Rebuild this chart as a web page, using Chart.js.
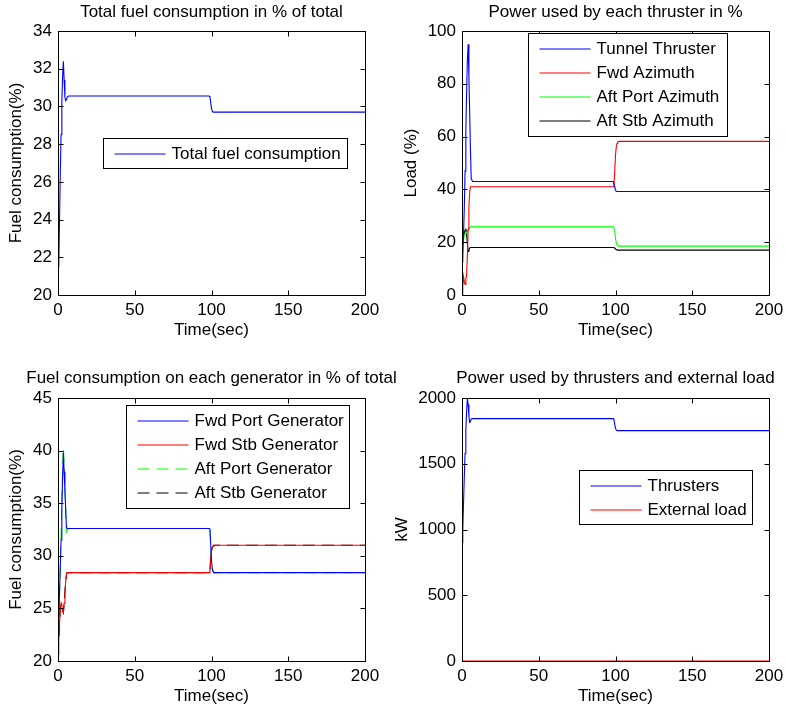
<!DOCTYPE html>
<html>
<head>
<meta charset="utf-8">
<script src="https://cdn.jsdelivr.net/npm/chart.js@4.4.1/dist/chart.umd.min.js"></script>
<style>
  html, body { margin: 0; padding: 0; background: #fff; overflow: hidden; }
  body { width: 786px; height: 712px; position: relative; }
  canvas { position: absolute; }
</style>
</head>
<body>
<canvas id="chart1" width="423" height="345" style="left:0;top:0"></canvas>
<canvas id="chart2" width="451" height="345" style="left:390px;top:0"></canvas>
<canvas id="chart3" width="423" height="362" style="left:0;top:350px"></canvas>
<canvas id="chart4" width="451" height="362" style="left:390px;top:350px"></canvas>
<script>
// data (waktu dalam detik)
const time = [0, 0.5, 1, 1.5, 2, 2.5, 3, 3.5, 4, 4.5, 5, 5.5, 6, 7, 8, 98.5, 99, 99.5, 100, 100.5, 101, 101.5, 102, 103, 200];
const timeTicks = [0, 50, 100, 150, 200];

// 1. total fuel consumption
const totalFuel = [21.5, 21.6, 24.0, 26.5, 28.5, 30.2, 31.6, 32.4, 31.4, 30.5, 30.3, 30.35, 30.5, 30.55, 30.55, 30.55, 30.5, 30.2, 29.9, 29.75, 29.7, 29.7, 29.7, 29.7, 29.7];
const totalFuelTicks = [20, 22, 24, 26, 28, 30, 32, 34];

// 2. thruster load
const tunnelThruster = [12.5, 17, 23, 33, 47, 62, 77, 89, 95, 83, 69, 55, 44, 43, 43, 43, 43, 41, 39.8, 39.3, 39.2, 39.2, 39.2, 39.2, 39.2];
const fwdAzimuth = [0, 3, 7, 5, 4, 6, 7.5, 15, 25, 33, 39, 41, 41, 41, 41, 41, 41.5, 47, 53, 56, 57.5, 58, 58.2, 58.2, 58.2];
const aftPortAzimuth = [14, 18, 21, 22.5, 23, 23, 23.5, 24, 24.5, 25, 25.5, 25.8, 25.8, 25.8, 25.8, 25.8, 25.8, 24.5, 21.5, 19.8, 19, 18.7, 18.6, 18.5, 18.5];
const aftStbAzimuth = [16, 19, 22, 23.5, 24.5, 25.2, 23, 19.5, 16.5, 17, 17.8, 18, 18, 18, 18, 18, 18, 17.8, 17.4, 17.2, 17.1, 17, 17, 17, 17];
const loadTicks = [0, 20, 40, 60, 80, 100];

// 3. fuel per generator
const fwdPortGen = [22.5, 24, 26.5, 29, 31.5, 34.5, 37.5, 39.8, 38, 36.2, 34.4, 32.7, 32.6, 32.6, 32.6, 32.6, 32.5, 31, 29.5, 28.8, 28.5, 28.4, 28.4, 28.4, 28.4];
const fwdStbGen = [20.6, 22, 23.5, 25, 25.5, 25.2, 24.8, 24.6, 25.5, 26.5, 27.5, 28.2, 28.4, 28.4, 28.4, 28.4, 28.5, 29.9, 30.5, 30.8, 30.9, 31, 31, 31, 31];
const aftPortGen = [22.5, 24, 26.5, 29, 32, 35, 38, 40.3, 38.5, 36.5, 34.5, 32.3, 32.5, 32.6, 32.6, 32.6, 32.5, 31, 29.5, 28.8, 28.5, 28.4, 28.4, 28.4, 28.4];
const aftStbGen = [20.6, 22, 23.5, 25, 25.5, 25.2, 24.8, 24.6, 25.5, 26.5, 27.5, 28.2, 28.4, 28.4, 28.4, 28.4, 28.5, 29.9, 30.5, 30.8, 30.9, 31, 31, 31, 31];
const genTicks = [20, 25, 30, 35, 40, 45];

// 4. power in kW
const thrusters = [900, 1000, 1200, 1400, 1580, 1750, 1900, 2000, 1950, 1860, 1815, 1820, 1840, 1843, 1843, 1843, 1835, 1800, 1770, 1757, 1752, 1752, 1752, 1752, 1752];
const externalLoad = [0, 0, 0, 0, 0, 0, 0, 0, 0, 0, 0, 0, 0, 0, 0, 0, 0, 0, 0, 0, 0, 0, 0, 0, 0];
const kwTicks = [0, 500, 1000, 1500, 2000];

Chart.defaults.font.family = '"Liberation Sans", Arial, sans-serif';
Chart.defaults.font.size = 17;
Chart.defaults.color = '#000';

// kotak axes ala matlab + tick ke dalam
const axesBox = {
    id: 'axesBox',
    afterDatasetsDraw(chart) {
        const { ctx, chartArea: a, scales: { x, y } } = chart;
        const l = Math.round(a.left) + 0.5, r = Math.round(a.right) + 0.5;
        const t = Math.round(a.top) + 0.5, b = Math.round(a.bottom) + 0.5;
        ctx.save();
        ctx.strokeStyle = '#000';
        ctx.lineWidth = 1;
        ctx.beginPath();
        x.ticks.forEach(tk => {
            const px = Math.round(x.getPixelForValue(tk.value)) + 0.5;
            ctx.moveTo(px, b); ctx.lineTo(px, b - 5);
            ctx.moveTo(px, t); ctx.lineTo(px, t + 5);
        });
        y.ticks.forEach(tk => {
            const py = Math.round(y.getPixelForValue(tk.value)) + 0.5;
            ctx.moveTo(l, py); ctx.lineTo(l + 5, py);
            ctx.moveTo(r, py); ctx.lineTo(r - 5, py);
        });
        ctx.stroke();
        ctx.strokeRect(l, t, r - l, b - t);
        ctx.restore();
    }
};

// legend dengan kotak
const boxLegend = {
    id: 'boxLegend',
    afterDraw(chart, args, opts) {
        const { ctx, chartArea } = chart;
        const sets = chart.data.datasets;
        const rowH = 24.3;
        const x0 = Math.round(chartArea.left + opts.left) + 0.5;
        const y0 = Math.round(chartArea.top + opts.top) + 0.5;
        const h = Math.round(30 + (sets.length - 1) * rowH);
        ctx.save();
        ctx.fillStyle = '#fff';
        ctx.fillRect(x0, y0, opts.width, h);
        ctx.strokeStyle = '#000';
        ctx.lineWidth = 1;
        ctx.strokeRect(x0, y0, opts.width, h);
        ctx.font = '17px "Liberation Sans", Arial, sans-serif';
        ctx.textBaseline = 'middle';
        sets.forEach((ds, i) => {
            const yy = Math.round(y0 + 15 + i * rowH);
            ctx.beginPath();
            ctx.lineWidth = 1.2;
            ctx.setLineDash(ds.borderDash || []);
            ctx.strokeStyle = ds.borderColor;
            ctx.moveTo(x0 + 11, yy);
            ctx.lineTo(x0 + 62, yy);
            ctx.stroke();
            ctx.setLineDash([]);
            ctx.fillStyle = '#000';
            ctx.fillText(ds.label, x0 + 68, yy);
        });
        ctx.restore();
    }
};

function series(label, values, color, dash) {
    return {
        label: label,
        data: values.map((v, i) => ({ x: time[i], y: v })),
        yAxisID: 'y',
        borderColor: color,
        borderWidth: 1.1,
        borderDash: dash || [],
        pointRadius: 0,
        tension: 0,
        fill: false
    };
}

function makeChart(id, o) {
    return new Chart(document.getElementById(id), {
        type: 'line',
        data: { datasets: o.datasets },
        plugins: [axesBox, boxLegend],
        options: {
            responsive: false,
            animation: false,
            layout: { padding: 0 },
            plugins: {
                legend: { display: false },
                tooltip: { enabled: false },
                title: {
                    display: true,
                    text: o.title,
                    color: '#000',
                    font: { size: 17, weight: 'normal' },
                    padding: o.titlePad
                },
                boxLegend: o.legend
            },
            scales: {
                x: {
                    type: 'linear',
                    min: 0,
                    max: 200,
                    afterBuildTicks: s => { s.ticks = timeTicks.map(v => ({ value: v })); },
                    afterFit: s => { s.height = o.xHeight; },
                    grid: { display: false, drawTicks: false },
                    border: { display: false },
                    ticks: { padding: 5, maxRotation: 0, autoSkip: false, callback: v => String(v) },
                    title: { display: true, text: 'Time(sec)', padding: { top: 0, bottom: o.xTitlePad } }
                },
                y: {
                    type: 'linear',
                    position: 'left',
                    min: o.yTicks[0],
                    max: o.yTicks[o.yTicks.length - 1],
                    afterBuildTicks: s => { s.ticks = o.yTicks.map(v => ({ value: v })); },
                    afterFit: s => { s.width = o.yWidth; },
                    grid: { display: false, drawTicks: false },
                    border: { display: false },
                    ticks: { padding: 6, autoSkip: false, callback: v => String(v) },
                    title: { display: true, text: o.yTitle, padding: { top: o.yTitlePad, bottom: 0 } }
                },
                // ruang kosong di kanan supaya judul di tengah plot
                spacer: {
                    type: 'linear',
                    axis: 'y',
                    position: 'right',
                    afterFit: s => { s.width = o.yWidth; },
                    grid: { display: false, drawTicks: false },
                    border: { display: false },
                    ticks: { display: false }
                }
            }
        }
    });
}

const chart1 = makeChart('chart1', {
    title: 'Total fuel consumption in % of total',
    yTitle: 'Fuel consumption(%)',
    yTicks: totalFuelTicks,
    yWidth: 58, yTitlePad: 5.8,
    xHeight: 50, xTitlePad: 4.8,
    titlePad: { top: 1.8, bottom: 8.8 },
    legend: { left: 45, top: 107, width: 244 },
    datasets: [series('Total fuel consumption', totalFuel, '#0000ff')]
});

const chart2 = makeChart('chart2', {
    title: 'Power used by each thruster in %',
    yTitle: 'Load (%)',
    yTicks: loadTicks,
    yWidth: 72, yTitlePad: 10.8,
    xHeight: 50, xTitlePad: 4.8,
    titlePad: { top: 1.8, bottom: 8.8 },
    legend: { left: 66, top: 2, width: 199 },
    datasets: [
        series('Tunnel Thruster', tunnelThruster, '#0000ff'),
        series('Fwd Azimuth', fwdAzimuth, '#ff0000'),
        series('Aft Port Azimuth', aftPortAzimuth, '#00ff00'),
        series('Aft Stb Azimuth', aftStbAzimuth, '#000000')
    ]
});

const chart3 = makeChart('chart3', {
    title: 'Fuel consumption on each generator in % of total',
    yTitle: 'Fuel consumption(%)',
    yTicks: genTicks,
    yWidth: 58, yTitlePad: 5.8,
    xHeight: 51, xTitlePad: 5.8,
    titlePad: { top: 17.8, bottom: 9.8 },
    legend: { left: 68, top: 7, width: 223 },
    datasets: [
        series('Fwd Port Generator', fwdPortGen, '#0000ff'),
        series('Fwd Stb Generator', fwdStbGen, '#ff0000'),
        series('Aft Port Generator', aftPortGen, '#00ff00', [12, 7]),
        series('Aft Stb Generator', aftStbGen, '#000000', [12, 7])
    ]
});

const chart4 = makeChart('chart4', {
    title: 'Power used by thrusters and external load',
    yTitle: 'kW',
    yTicks: kwTicks,
    yWidth: 72, yTitlePad: 1.8,
    xHeight: 51, xTitlePad: 5.8,
    titlePad: { top: 17.8, bottom: 9.8 },
    legend: { left: 117, top: 72, width: 173 },
    datasets: [
        series('Thrusters', thrusters, '#0000ff'),
        series('External load', externalLoad, '#ff0000')
    ]
});
</script>
</body>
</html>
